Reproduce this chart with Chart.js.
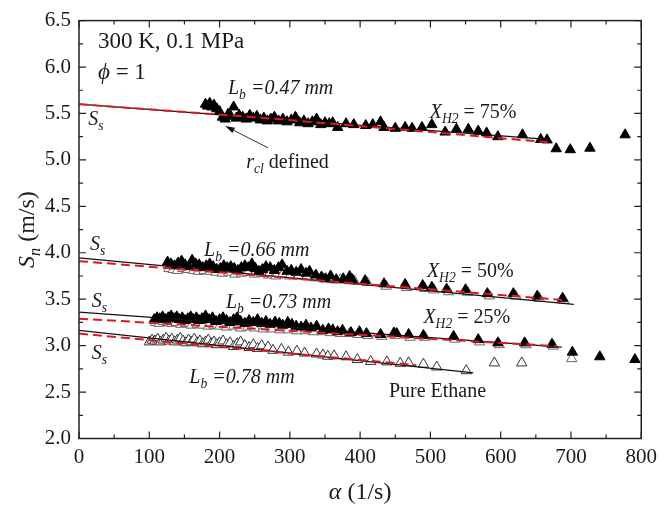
<!DOCTYPE html>
<html>
<head>
<meta charset="utf-8">
<script src="https://cdn.jsdelivr.net/npm/chart.js@4.4.1/dist/chart.umd.min.js"></script>
<style>
  html, body { margin: 0; padding: 0; background: #fff; }
  #wrap { width: 663px; height: 506px; }
</style>
</head>
<body>
<div id="wrap"><canvas id="chart" width="663" height="506"></canvas></div>
<script>
// stretch rate alpha (1/s) vs stretched flame speed Sn (m/s)

// X_H2 = 75 %
const h2_75_alpha = [180, 183, 186, 189, 192, 196, 200, 204, 208, 212, 216, 220, 224, 228, 233, 238, 243, 248, 253, 258, 263, 268, 273, 278, 284, 290, 296, 302, 308, 314, 320, 326, 332, 338, 344, 350, 356, 361, 368, 380, 391, 408, 418, 429, 434, 450, 464, 474, 488, 502, 521, 537, 554, 568, 580, 596, 631, 657, 666, 679, 699, 727, 777];
const h2_75_sn = [5.60, 5.58, 5.61, 5.57, 5.59, 5.55, 5.52, 5.46, 5.44, 5.49, 5.47, 5.57, 5.45, 5.48, 5.46, 5.44, 5.48, 5.45, 5.47, 5.43, 5.45, 5.42, 5.44, 5.46, 5.42, 5.44, 5.41, 5.43, 5.46, 5.40, 5.42, 5.39, 5.41, 5.44, 5.38, 5.40, 5.39, 5.40, 5.35, 5.39, 5.38, 5.37, 5.38, 5.41, 5.35, 5.34, 5.35, 5.34, 5.35, 5.38, 5.30, 5.33, 5.33, 5.31, 5.29, 5.25, 5.27, 5.22, 5.215, 5.12, 5.11, 5.126, 5.27];

// X_H2 = 50 %, two runs
const h2_50a_alpha = [126, 131, 136, 141, 146, 151, 156, 161, 166, 171, 176, 181, 186, 191, 196, 201, 206, 211, 216, 221, 226, 231, 236, 241, 246, 251, 256, 261, 266, 272, 278, 284, 289, 296, 302, 309, 316, 323, 328, 337, 345, 351, 358, 366, 376, 385, 389, 407, 434, 464, 489, 502, 523, 550, 581, 618, 652, 688];
const h2_50a_sn = [3.90, 3.88, 3.86, 3.89, 3.91, 3.87, 3.85, 3.92, 3.88, 3.87, 3.84, 3.86, 3.88, 3.85, 3.82, 3.83, 3.86, 3.84, 3.85, 3.83, 3.81, 3.84, 3.86, 3.84, 3.88, 3.83, 3.80, 3.82, 3.85, 3.84, 3.81, 3.84, 3.87, 3.80, 3.81, 3.79, 3.82, 3.78, 3.80, 3.76, 3.74, 3.72, 3.75, 3.71, 3.72, 3.745, 3.71, 3.70, 3.666, 3.659, 3.648, 3.63, 3.608, 3.602, 3.56, 3.56, 3.533, 3.51];
const h2_50b_alpha = [128, 134, 140, 148, 155, 163, 170, 178, 186, 195, 204, 213, 222, 231, 240, 250, 260, 270, 280, 290, 300, 312, 324, 336, 348, 360, 372, 385, 392, 410, 437, 466, 492, 505, 526, 553, 584, 621, 655, 690];
const h2_50b_sn = [3.83, 3.82, 3.81, 3.83, 3.82, 3.81, 3.80, 3.81, 3.80, 3.79, 3.78, 3.79, 3.77, 3.78, 3.79, 3.77, 3.78, 3.76, 3.75, 3.77, 3.75, 3.75, 3.74, 3.73, 3.72, 3.71, 3.71, 3.70, 3.695, 3.68, 3.64, 3.625, 3.615, 3.60, 3.58, 3.575, 3.535, 3.535, 3.51, 3.49];

// X_H2 = 25 %, two runs
const h2_25a_alpha = [107, 111, 115, 119, 123, 127, 131, 135, 139, 143, 147, 151, 155, 159, 163, 167, 171, 175, 180, 185, 190, 195, 200, 205, 210, 215, 220, 225, 230, 236, 242, 248, 254, 260, 266, 272, 279, 285, 290, 297, 303, 309, 316, 323, 330, 338, 347, 355, 361, 368, 375, 387, 399, 409, 429, 448, 452, 469, 490, 533, 568, 596, 634, 673, 702, 741, 791];
const h2_25a_sn = [3.28, 3.30, 3.29, 3.31, 3.28, 3.30, 3.32, 3.29, 3.31, 3.28, 3.30, 3.27, 3.29, 3.31, 3.28, 3.30, 3.27, 3.29, 3.32, 3.28, 3.30, 3.26, 3.28, 3.30, 3.27, 3.25, 3.28, 3.30, 3.26, 3.24, 3.27, 3.25, 3.28, 3.24, 3.26, 3.23, 3.254, 3.24, 3.22, 3.25, 3.23, 3.21, 3.20, 3.22, 3.19, 3.21, 3.165, 3.18, 3.17, 3.15, 3.165, 3.14, 3.15, 3.13, 3.12, 3.136, 3.13, 3.12, 3.11, 3.10, 3.065, 3.03, 3.03, 3.015, 2.93, 2.88, 2.85];
const h2_25b_alpha = [109, 114, 120, 126, 132, 138, 145, 152, 160, 168, 176, 184, 192, 200, 210, 220, 230, 240, 250, 262, 274, 286, 298, 310, 322, 334, 346, 358, 372, 385, 397, 411, 431, 450, 471, 492, 535, 570, 598, 636, 675, 701];
const h2_25b_sn = [3.25, 3.24, 3.26, 3.25, 3.24, 3.25, 3.23, 3.24, 3.22, 3.23, 3.22, 3.21, 3.22, 3.21, 3.20, 3.21, 3.19, 3.20, 3.19, 3.18, 3.18, 3.17, 3.17, 3.16, 3.16, 3.15, 3.15, 3.14, 3.13, 3.13, 3.12, 3.11, 3.10, 3.11, 3.09, 3.09, 3.07, 3.04, 3.01, 3.01, 2.995, 2.86];

// pure ethane
const c2h6_alpha = [100, 104, 108, 112, 116, 120, 124, 128, 132, 136, 140, 144, 148, 152, 156, 160, 164, 168, 172, 176, 180, 184, 188, 192, 196, 200, 205, 210, 215, 220, 225, 230, 236, 242, 248, 254, 260, 269, 276, 288, 298, 310, 321, 338, 347, 354, 363, 380, 396, 415, 438, 457, 469, 490, 509, 551, 591, 630];
const c2h6_sn = [3.04, 3.06, 3.05, 3.07, 3.04, 3.06, 3.08, 3.05, 3.07, 3.04, 3.06, 3.08, 3.05, 3.03, 3.06, 3.04, 3.07, 3.03, 3.05, 3.02, 3.04, 3.06, 3.02, 3.04, 3.01, 3.03, 3.05, 3.01, 3.03, 2.99, 3.02, 3.04, 3.00, 2.98, 3.01, 2.97, 3.00, 2.985, 2.95, 2.96, 2.93, 2.94, 2.92, 2.91, 2.90, 2.886, 2.89, 2.88, 2.85, 2.83, 2.825, 2.81, 2.815, 2.80, 2.77, 2.73, 2.814, 2.814];

// extrapolation lines: linear (solid) and nonlinear (dashed)
const fit75_alpha = [0, 667];            const fit75_sn = [5.60, 5.22];
const fit75nl_alpha = [0, 250, 500, 667]; const fit75nl_sn = [5.60, 5.46, 5.30, 5.19];
const fit50_alpha = [0, 704];            const fit50_sn = [3.945, 3.444];
const fit50nl_alpha = [0, 692];          const fit50nl_sn = [3.91, 3.49];
const fit25_alpha = [0, 687];            const fit25_sn = [3.36, 2.985];
const fit25nl_alpha = [0, 680];          const fit25nl_sn = [3.29, 2.995];
const fitEth_alpha = [0, 561];           const fitEth_sn = [3.165, 2.706];
const fitEthnl_alpha = [0, 480];         const fitEthnl_sn = [3.13, 2.79];

// axis ticks
const xTicks = [0, 100, 200, 300, 400, 500, 600, 700, 800];
const yTicks = [2.0, 2.5, 3.0, 3.5, 4.0, 4.5, 5.0, 5.5, 6.0, 6.5];

const serif = '"Liberation Serif", "Times New Roman", serif';

// in-plot labels, anchored at left baseline in data units
const notes = [
  { a: 27, s: 6.20, size: 23, parts: [['300 K, 0.1 MPa', 'r']] },
  { a: 27, s: 5.87, size: 23, parts: [['\u03D5', 'i'], [' = 1', 'r']] },
  { a: 212, s: 5.71, size: 20, parts: [['L', 'i'], ['b', 'si'], [' =0.47 mm', 'i']] },
  { a: 499, s: 5.451, size: 20, parts: [['X', 'i'], ['H2', 'si'], [' = 75%', 'r']] },
  { a: 13, s: 5.376, size: 20, parts: [['S', 'i'], ['s', 'si']] },
  { a: 238, s: 4.915, size: 20, parts: [['r', 'i'], ['cl', 'si'], [' defined', 'r']] },
  { a: 15.5, s: 4.025, size: 20, parts: [['S', 'i'], ['s', 'si']] },
  { a: 178, s: 3.97, size: 20, parts: [['L', 'i'], ['b', 'si'], [' =0.66 mm', 'i']] },
  { a: 495, s: 3.735, size: 20, parts: [['X', 'i'], ['H2', 'si'], [' = 50%', 'r']] },
  { a: 18, s: 3.412, size: 20, parts: [['S', 'i'], ['s', 'si']] },
  { a: 209, s: 3.41, size: 20, parts: [['L', 'i'], ['b', 'si'], [' =0.73 mm', 'i']] },
  { a: 490, s: 3.24, size: 20, parts: [['X', 'i'], ['H2', 'si'], [' = 25%', 'r']] },
  { a: 18, s: 2.855, size: 20, parts: [['S', 'i'], ['s', 'si']] },
  { a: 157, s: 2.597, size: 20, parts: [['L', 'i'], ['b', 'si'], [' =0.78 mm', 'i']] },
  { a: 441, s: 2.449, size: 20, parts: [['Pure Ethane', 'r']] }
];
const arrowFrom = { a: 269, s: 5.13 };
const arrowTo = { a: 208, s: 5.365 };

function pts(xs, ys) {
  return xs.map((x, i) => ({ x: x, y: ys[i] }));
}

function fitLine(xs, ys, dashed) {
  return {
    data: pts(xs, ys),
    showLine: true,
    pointRadius: 0,
    borderColor: dashed ? '#e5151d' : '#111',
    borderWidth: dashed ? 2 : 1.3,
    borderDash: dashed ? [9, 5] : [],
    fill: false
  };
}

function markers(xs, ys, filled, edge) {
  return {
    data: pts(xs, ys),
    pointStyle: 'triangle',
    pointRadius: 6,
    backgroundColor: filled ? '#000' : '#fff',
    borderColor: edge,
    borderWidth: 1
  };
}

// mixed italic / subscript text
function rich(ctx, x, y, parts, size) {
  let cx = x;
  for (const [txt, st] of parts) {
    const sub = st[0] === 's';
    const fs = sub ? size * 0.68 : size;
    ctx.font = (st.endsWith('i') ? 'italic ' : '') + fs + 'px ' + serif;
    ctx.fillText(txt, cx, sub ? y + size * 0.25 : y);
    cx += ctx.measureText(txt).width;
  }
  return cx - x;
}

function richWidth(ctx, parts, size) {
  let w = 0;
  for (const [txt, st] of parts) {
    const fs = st[0] === 's' ? size * 0.68 : size;
    ctx.font = (st.endsWith('i') ? 'italic ' : '') + fs + 'px ' + serif;
    w += ctx.measureText(txt).width;
  }
  return w;
}

const decor = {
  id: 'decor',
  afterDatasetsDraw(chart) {
    const { ctx, chartArea: ca, scales: { x, y } } = chart;
    ctx.save();
    ctx.strokeStyle = '#222';
    ctx.lineWidth = 1.2;
    ctx.beginPath();
    // inward ticks on all four sides, minor ticks halfway between
    for (let i = 0; i < xTicks.length; i++) {
      const vals = [[xTicks[i], 7]];
      if (i < xTicks.length - 1) vals.push([(xTicks[i] + xTicks[i + 1]) / 2, 4]);
      for (const [v, len] of vals) {
        const px = x.getPixelForValue(v);
        ctx.moveTo(px, ca.bottom); ctx.lineTo(px, ca.bottom - len);
        ctx.moveTo(px, ca.top); ctx.lineTo(px, ca.top + len);
      }
    }
    for (let i = 0; i < yTicks.length; i++) {
      const vals = [[yTicks[i], 7]];
      if (i < yTicks.length - 1) vals.push([(yTicks[i] + yTicks[i + 1]) / 2, 4]);
      for (const [v, len] of vals) {
        const py = y.getPixelForValue(v);
        ctx.moveTo(ca.left, py); ctx.lineTo(ca.left + len, py);
        ctx.moveTo(ca.right, py); ctx.lineTo(ca.right - len, py);
      }
    }
    ctx.stroke();
    ctx.lineWidth = 1.5;
    ctx.strokeRect(ca.left, ca.top, ca.right - ca.left, ca.bottom - ca.top);

    // labels inside the plot
    ctx.fillStyle = '#1a1a1a';
    ctx.textBaseline = 'alphabetic';
    ctx.textAlign = 'left';
    for (const n of notes) {
      rich(ctx, x.getPixelForValue(n.a), y.getPixelForValue(n.s), n.parts, n.size);
    }

    // arrow pointing at the first usable point
    const x0 = x.getPixelForValue(arrowFrom.a), y0 = y.getPixelForValue(arrowFrom.s);
    const x1 = x.getPixelForValue(arrowTo.a), y1 = y.getPixelForValue(arrowTo.s);
    const ang = Math.atan2(y1 - y0, x1 - x0);
    ctx.strokeStyle = '#333';
    ctx.lineWidth = 1;
    ctx.beginPath();
    ctx.moveTo(x0, y0);
    ctx.lineTo(x1 - 8 * Math.cos(ang), y1 - 8 * Math.sin(ang));
    ctx.stroke();
    ctx.fillStyle = '#111';
    ctx.beginPath();
    ctx.moveTo(x1, y1);
    ctx.lineTo(x1 - 10 * Math.cos(ang - 0.3), y1 - 10 * Math.sin(ang - 0.3));
    ctx.lineTo(x1 - 10 * Math.cos(ang + 0.3), y1 - 10 * Math.sin(ang + 0.3));
    ctx.closePath();
    ctx.fill();

    // axis titles
    ctx.fillStyle = '#1a1a1a';
    const xt = [['\u03B1', 'i'], [' (1/s)', 'r']];
    const wx = richWidth(ctx, xt, 24);
    rich(ctx, (ca.left + ca.right) / 2 - wx / 2, 499, xt, 24);

    const yt = [['S', 'i'], ['n', 'si'], [' (m/s)', 'r']];
    const wy = richWidth(ctx, yt, 24);
    ctx.translate(34, (ca.top + ca.bottom) / 2);
    ctx.rotate(-Math.PI / 2);
    rich(ctx, -wy / 2, 0, yt, 24);
    ctx.restore();
  }
};

new Chart(document.getElementById('chart'), {
  type: 'scatter',
  data: {
    datasets: [
      fitLine(fit75nl_alpha, fit75nl_sn, true),
      fitLine(fit50nl_alpha, fit50nl_sn, true),
      fitLine(fit25nl_alpha, fit25nl_sn, true),
      fitLine(fitEthnl_alpha, fitEthnl_sn, true),
      fitLine(fit75_alpha, fit75_sn, false),
      fitLine(fit50_alpha, fit50_sn, false),
      fitLine(fit25_alpha, fit25_sn, false),
      fitLine(fitEth_alpha, fitEth_sn, false),
      markers(h2_75_alpha, h2_75_sn, true, '#000'),
      markers(h2_50a_alpha, h2_50a_sn, true, '#000'),
      markers(h2_25a_alpha, h2_25a_sn, true, '#000'),
      markers(h2_50b_alpha, h2_50b_sn, false, '#666'),
      markers(h2_25b_alpha, h2_25b_sn, false, '#666'),
      markers(c2h6_alpha, c2h6_sn, false, '#333')
    ]
  },
  options: {
    responsive: false,
    animation: false,
    devicePixelRatio: 1,
    layout: { padding: { top: 19, right: 16.5, left: 0, bottom: 0 } },
    plugins: { legend: { display: false }, tooltip: { enabled: false } },
    scales: {
      x: {
        type: 'linear', min: 0, max: 800,
        afterFit(s) { s.height = 67.5; },
        afterBuildTicks(s) { s.ticks = xTicks.map(v => ({ value: v })); },
        grid: { display: false, drawTicks: false },
        border: { display: false },
        ticks: { padding: 6, color: '#1a1a1a', font: { family: serif, size: 21 } }
      },
      y: {
        type: 'linear', min: 2, max: 6.5,
        afterFit(s) { s.width = 79; },
        afterBuildTicks(s) { s.ticks = yTicks.map(v => ({ value: v })); },
        grid: { display: false, drawTicks: false },
        border: { display: false },
        ticks: {
          padding: 8, color: '#1a1a1a', font: { family: serif, size: 21 },
          callback: v => v.toFixed(1)
        }
      }
    }
  },
  plugins: [decor]
});
</script>
</body>
</html>
